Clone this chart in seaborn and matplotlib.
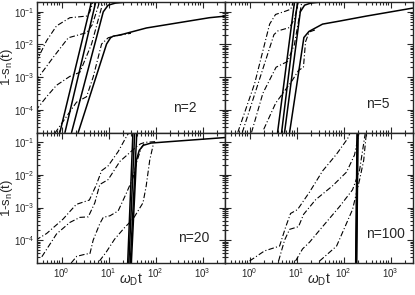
import matplotlib
matplotlib.use("Agg")
import matplotlib.pyplot as plt
import seaborn as sns

# ---------------- data ----------------
panel_labels = ["n=2", "n=5", "n=20", "n=100"]
x_limits = (0.3, 3000)
y_limits = (2e-5, 0.2)

# n = 2 : solid curves
n2_solid_x = [
    [0.92, 4.35],
    [1.18, 5.37],
    [1.63, 7.7, 9.8, 14, 30, 3000],
    [2.26, 9.06, 11, 12.6, 16, 20.5, 64, 1400, 3100],
]
n2_solid_y = [
    [2e-5, 0.21],
    [2e-5, 0.21],
    [2e-5, 0.1, 0.16, 0.185, 0.205, 0.24],
    [2e-5, 0.0103, 0.016, 0.018, 0.019, 0.0207, 0.032, 0.066, 0.074],
]
# n = 2 : dash-dot curves
n2_dash_x = [
    [0.28, 0.48, 0.78, 1.5, 3.4, 4.0, 4.7],
    [0.28, 0.67, 1.39, 3.4, 4.5, 6.5],
    [0.28, 0.48, 0.78, 1.5, 2.45, 4.35, 7.7],
    [0.72, 2.08, 3.4, 4.7, 7.1, 9.8, 13, 20, 30],
]
n2_dash_y = [
    [2.7e-3, 0.013, 0.037, 0.066, 0.074, 0.1, 0.21],
    [7.5e-4, 4.1e-3, 0.016, 0.023, 0.04, 0.21],
    [9.3e-5, 2.5e-4, 5.6e-4, 1.05e-3, 1.4e-3, 0.0103, 0.21],
    [1.9e-5, 1.7e-4, 2.5e-4, 1e-3, 0.0103, 0.016, 0.018, 0.02, 0.022],
]

# n = 5 : solid curves
n5_solid_x = [
    [3.94, 9.06],
    [4.8, 10.5],
    [5.55, 12, 14.8, 20, 40, 3000],
    [7.1, 14.3, 18.3, 35.7, 82, 305, 2950],
]
n5_solid_y = [
    [2e-5, 0.21],
    [2e-5, 0.21],
    [2e-5, 0.1, 0.16, 0.185, 0.205, 0.24],
    [2e-5, 0.0163, 0.025, 0.042, 0.052, 0.074, 0.13],
]
# n = 5 : dash-dot curves
n5_dash_x = [
    [0.56, 1.28, 2.67, 3.57, 5.84, 7.5, 8.6],
    [0.7, 3.3, 4.0, 7.1, 9, 11],
    [1.1, 1.92, 3.66, 6.4, 9, 13],
    [2.0, 3.6, 8.1, 11, 14, 15.5, 18.5, 25],
]
n5_dash_y = [
    [2e-5, 6.3e-4, 0.042, 0.083, 0.105, 0.12, 0.21],
    [2e-5, 0.02, 0.026, 0.033, 0.06, 0.21],
    [2e-5, 3.2e-4, 2e-3, 3e-3, 0.01, 0.21],
    [2.5e-5, 1.6e-4, 7.9e-4, 1.6e-3, 2e-3, 0.012, 0.024, 0.028],
]

# n = 20 : solid curves
n20_solid_x = [
    [25.5, 33],
    [27, 36],
    [29, 40],
    [30.5, 39, 45, 55, 80, 200, 3000],
]
n20_solid_y = [
    [2e-5, 0.21],
    [2e-5, 0.21],
    [2e-5, 0.21],
    [2e-5, 0.028, 0.057, 0.081, 0.095, 0.105, 0.14],
]
# n = 20 : dash-dot curves
n20_dash_x = [
    [0.28, 0.48, 1.07, 2.05, 3.9, 5.5, 7.1, 9.8, 16, 24, 30],
    [0.38, 0.78, 1.5, 2.45, 3.7, 5.1, 6.5, 9.8, 17.4, 39.5, 48, 60, 100],
    [1.6, 2.1, 3.4, 4.0, 4.7, 6.5, 7.7, 10.7, 16, 24, 33, 40, 50, 60],
    [6.4, 8.9, 13.4, 21.7, 33, 54, 63, 75, 90],
]
n20_dash_y = [
    [1.0e-4, 1.6e-4, 4.4e-4, 1.25e-3, 1.7e-3, 5e-3, 0.0135, 0.019, 0.052, 0.15, 0.25],
    [3.1e-5, 1.55e-4, 3.5e-4, 5e-4, 5.2e-4, 1.4e-3, 5.1e-3, 7.2e-3, 0.026, 0.074, 0.09, 0.1, 0.105],
    [2e-5, 3.2e-5, 3.8e-5, 3.8e-5, 1e-4, 3.2e-4, 5e-4, 5.6e-4, 7.9e-4, 2.8e-3, 8.1e-3, 0.026, 0.07, 0.1],
    [2.3e-5, 4.3e-5, 1.07e-4, 2.4e-4, 4.4e-4, 1.4e-3, 4.5e-3, 0.028, 0.09],
]

# n = 100 : solid curves
n100_solid_x = [
    [181, 194],
    [184, 197],
    [187, 200],
    [190, 203],
]
n100_solid_y = [
    [2e-5, 0.21],
    [2e-5, 0.21],
    [2e-5, 0.21],
    [2e-5, 0.21],
]
# n = 100 : dash-dot curves
n100_dash_x = [
    [1.0, 2.08, 4.35, 5.84, 7.45, 10.5, 18.9, 35.7, 71, 122, 219],
    [4.14, 5.55, 7.1, 11, 14.1, 25.4, 58, 116, 171, 241],
    [9.5, 13.4, 18.9, 35.7, 82, 155, 219, 295],
    [30.9, 71, 155, 219, 268, 309],
]
n100_dash_y = [
    [2.3e-5, 4.7e-5, 6.6e-5, 2.5e-4, 6.6e-4, 8.7e-4, 3.0e-3, 0.0132, 0.0436, 0.13, 0.93],
    [2.3e-5, 1e-4, 2.15e-4, 2.6e-4, 6.2e-4, 1.74e-3, 4.6e-3, 0.0123, 0.041, 0.47],
    [2.3e-5, 5.4e-5, 8.7e-5, 2.6e-4, 1.07e-3, 3.5e-3, 0.014, 0.23],
    [2.3e-5, 6.6e-5, 8.7e-4, 7.1e-3, 0.028, 0.23],
]

label_pos = [(0.85, 0.19), (0.877, 0.22), (0.915, 0.19), (0.957, 0.22)]

panel_data = [
    (n2_solid_x, n2_solid_y, n2_dash_x, n2_dash_y),
    (n5_solid_x, n5_solid_y, n5_dash_x, n5_dash_y),
    (n20_solid_x, n20_solid_y, n20_dash_x, n20_dash_y),
    (n100_solid_x, n100_solid_y, n100_dash_x, n100_dash_y),
]

# ---------------- figure ----------------
sns.set_style("ticks")
plt.rcParams["font.family"] = ["Liberation Sans", "DejaVu Sans"]
plt.rcParams["mathtext.fontset"] = "custom"
plt.rcParams["mathtext.rm"] = "Liberation Sans"
plt.rcParams["mathtext.it"] = "Liberation Sans:italic"

fig, axes = plt.subplots(2, 2, figsize=(4.15, 2.95), dpi=100, sharex=True, sharey=True)
fig.subplots_adjust(left=37 / 415, right=413 / 415, top=1 - 2 / 295, bottom=1 - 263 / 295,
                    wspace=0, hspace=0)

for ax, (sx, sy, dx, dy), lab, (lx, ly) in zip(axes.flat, panel_data, panel_labels, label_pos):
    ax.set_xscale("log")
    ax.set_yscale("log")
    for xs, ys in zip(sx, sy):
        sns.lineplot(x=xs, y=ys, ax=ax, color="black", linewidth=1.1,
                     sort=False, estimator=None)
    for xs, ys in zip(dx, dy):
        sns.lineplot(x=xs, y=ys, ax=ax, color="black", linewidth=0.8,
                     sort=False, estimator=None, linestyle=(0, (5, 2, 1, 2)))
    ax.set_xlim(*x_limits)
    ax.set_ylim(*y_limits)
    ax.text(lx, ly, lab, transform=ax.transAxes, ha="right", va="center", fontsize=10)
    ax.tick_params(which="both", direction="in", top=True, right=True, labelsize=7,
                   width=0.8, pad=2)
    ax.tick_params(which="major", length=4.5)
    ax.tick_params(which="minor", length=2.5)
    for sp in ax.spines.values():
        sp.set_linewidth(1.0)
    ax.set_xlabel("")
    ax.set_ylabel("")

for ax in axes[:, 0]:
    ax.set_ylabel(r"1-s$_{\rm n}$(t)", fontsize=9.5, va="center")
    ax.yaxis.set_label_coords(-0.16, 0.5)
for ax in axes[1, :]:
    ax.set_xlabel(r"$\omega_{\rm D}$t", fontsize=10, va="center")
    ax.xaxis.set_label_coords(0.5, -0.125)

fig.savefig("out.png", dpi=100)
